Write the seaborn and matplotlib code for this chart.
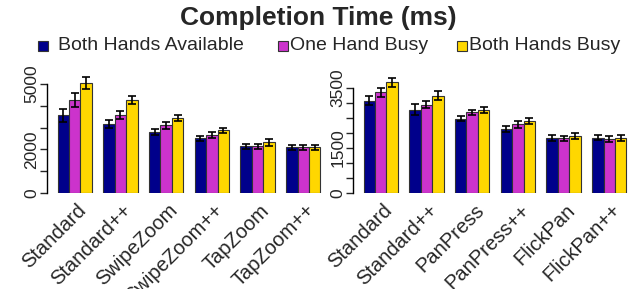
import numpy as np
import pandas as pd
import matplotlib
matplotlib.use("Agg")
import matplotlib.pyplot as plt
import matplotlib.transforms as mtrans
from matplotlib.patches import Rectangle
import seaborn as sns

sns.set_style("white")
plt.rcParams['font.family'] = ['Liberation Sans', 'DejaVu Sans']

conditions = ["Both Hands Available", "One Hand Busy", "Both Hands Busy"]
colors = ["#00008B", "#CC33CC", "#FFD700"]

left_techs = ["Standard", "Standard++", "SwipeZoom", "SwipeZoom++", "TapZoom", "TapZoom++"]
left_avail = [3560, 3170, 2800, 2510, 2140, 2095]
left_one = [4250, 3580, 3100, 2660, 2140, 2095]
left_both = [5050, 4270, 3440, 2875, 2320, 2095]
left_err_avail = [280, 200, 150, 110, 120, 105]
left_err_one = [320, 180, 150, 120, 120, 100]
left_err_both = [270, 200, 145, 120, 180, 100]

right_techs = ["Standard", "Standard++", "PanPress", "PanPress++", "FlickPan", "FlickPan++"]
right_avail = [3080, 2780, 2480, 2130, 1845, 1845]
right_one = [3355, 2945, 2690, 2290, 1820, 1800]
right_both = [3690, 3245, 2755, 2400, 1900, 1835]
right_err_avail = [150, 185, 85, 100, 100, 90]
right_err_one = [150, 120, 90, 110, 85, 100]
right_err_both = [155, 160, 100, 110, 105, 90]


def make_df(techs, vals, errs):
    rows = []
    for cond, v, e in zip(conditions, vals, errs):
        for t, vv, ee in zip(techs, v, e):
            rows.append({"tech": t, "cond": cond, "value": vv, "err": ee})
    return pd.DataFrame(rows)


df_left = make_df(left_techs, [left_avail, left_one, left_both],
                  [left_err_avail, left_err_one, left_err_both])
df_right = make_df(right_techs, [right_avail, right_one, right_both],
                   [right_err_avail, right_err_one, right_err_both])

W, H = 634, 289
fig = plt.figure(figsize=(W / 100, H / 100), dpi=100)

ax1 = fig.add_axes([47 / W, (H - 193) / H, 284 / W, 117.7 / H])
ax2 = fig.add_axes([353 / W, (H - 193) / H, 284 / W, 117 / H])


def draw(ax, df, techs, ymax, ticks, labels_shown):
    sns.barplot(data=df, x="tech", y="value", hue="cond", order=techs,
                hue_order=conditions, palette=colors, width=0.75,
                edgecolor="#333333", linewidth=0.8, errorbar=None,
                saturation=1, legend=False, ax=ax)
    for i, cond in enumerate(conditions):
        sub = df[df.cond == cond].set_index("tech").loc[techs]
        xs = np.arange(len(techs)) + (i - 1) * 0.25
        ax.errorbar(xs, sub["value"], yerr=sub["err"], fmt="none",
                    ecolor="black", elinewidth=1.2, capsize=3, capthick=1.2,
                    clip_on=False, zorder=5)
    ax.set_xlim(-0.605, len(techs) - 1 + 0.605)
    ax.set_ylim(0, ymax)
    ax.set_xlabel("")
    ax.set_ylabel("")
    for s in ["top", "right", "bottom"]:
        ax.spines[s].set_visible(False)
    ax.spines["left"].set_bounds(ticks[0], ticks[-1])
    ax.spines["left"].set_linewidth(1.0)
    ax.spines["left"].set_color("black")
    ax.set_yticks(ticks)
    ax.set_yticklabels([str(t) if t in labels_shown else "" for t in ticks],
                       rotation=90, va="center", fontsize=12.5)
    ax.tick_params(axis="y", length=5, width=1, direction="out", left=True, pad=0.5)
    ax.tick_params(axis="x", length=0, pad=5.5)
    ax.set_xticks(range(len(techs)))
    ax.set_xticklabels(techs, rotation=45, ha="right", rotation_mode="anchor",
                       fontsize=14.5)
    offset = mtrans.ScaledTranslation(2 / 100, 0, fig.dpi_scale_trans)
    for lab in ax.get_xticklabels():
        lab.set_transform(lab.get_transform() + offset)


draw(ax1, df_left, left_techs, 5400, [0, 1000, 2000, 3000, 4000, 5000], [0, 2000, 5000])
draw(ax2, df_right, right_techs, 3900, [0, 500, 1000, 1500, 2000, 2500, 3000, 3500], [0, 1500, 3500])

fig.text(318 / W, 1 - 18 / H, "Completion Time (ms)", ha="center", va="center",
         fontsize=19, fontweight="bold")

# legend: squares and labels
legend_sq_x = [38, 278, 457]
legend_txt_x = [58, 290, 469]
ly = 46
sq = 10
for c, lab, sx, tx in zip(colors, conditions, legend_sq_x, legend_txt_x):
    fig.patches.append(Rectangle((sx / W, (H - ly - sq / 2) / H), sq / W, sq / H,
                                 transform=fig.transFigure, facecolor=c,
                                 edgecolor="#333333", linewidth=0.8))
    fig.text(tx / W, 1 - ly / H, lab, ha="left", va="center", fontsize=14)

fig.savefig("out.png", dpi=100)
